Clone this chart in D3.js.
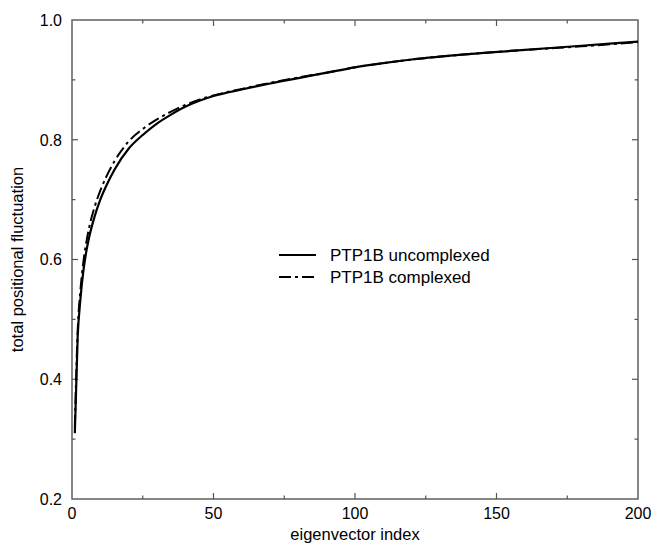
<!DOCTYPE html>
<html>
<head>
<meta charset="utf-8">
<script src="https://cdn.jsdelivr.net/npm/d3@7"></script>
<style>
  body { margin: 0; background: #fff; }
  text { font-family: "Liberation Sans", Arial, sans-serif; fill: #000; }
</style>
</head>
<body>
<div id="chart"></div>
<script>
// values
var idxUncomplexed = [1, 2, 3, 4, 5, 6, 8, 10, 12, 15, 20, 25, 30, 35, 40, 45, 50, 60, 70, 80, 90, 100, 110, 120, 140, 160, 180, 200];
var uncomplexed    = [0.31, 0.47, 0.535, 0.58, 0.612, 0.636, 0.672, 0.70, 0.722, 0.75, 0.785, 0.808, 0.827, 0.842, 0.855, 0.865, 0.873, 0.884, 0.894, 0.903, 0.912, 0.921, 0.928, 0.934, 0.943, 0.950, 0.957, 0.964];
var idxComplexed   = [1, 2, 3, 4, 5, 6, 8, 10, 12, 15, 20, 25, 30, 35, 40, 45, 50, 60, 70, 80, 90, 100, 110, 120, 140, 160, 180, 200];
var complexed      = [0.32, 0.48, 0.55, 0.595, 0.627, 0.652, 0.688, 0.715, 0.737, 0.764, 0.797, 0.818, 0.834, 0.847, 0.858, 0.867, 0.874, 0.885, 0.895, 0.904, 0.912, 0.921, 0.928, 0.934, 0.943, 0.950, 0.956, 0.963];
var seriesNames = ["PTP1B uncomplexed", "PTP1B complexed"];
var xMajor = [0, 50, 100, 150, 200];
var xMinor = [25, 75, 125, 175];
var yMajor = [0.2, 0.4, 0.6, 0.8, 1.0];
var yMinor = [0.3, 0.5, 0.7, 0.9];

var width = 651, height = 544;
var margin = {left: 72, right: 13, top: 20, bottom: 45};

var svg = d3.select("#chart").append("svg")
    .attr("width", width)
    .attr("height", height);

var x = d3.scaleLinear().domain([0, 200]).range([margin.left, width - margin.right]);
var y = d3.scaleLinear().domain([0.2, 1.0]).range([height - margin.bottom, margin.top]);

var axisColor = "#555";

// frame
svg.append("rect")
    .attr("x", x(0)).attr("y", y(1.0))
    .attr("width", x(200) - x(0)).attr("height", y(0.2) - y(1.0))
    .attr("fill", "none").attr("stroke", axisColor).attr("stroke-width", 1.4);

// inward ticks on all four sides
function ticks(vals, len) {
    var g = svg.append("g").attr("stroke", axisColor).attr("stroke-width", 1.2);
    vals.forEach(function (v) {
        g.append("line").attr("x1", x(v)).attr("x2", x(v)).attr("y1", y(0.2)).attr("y2", y(0.2) - len);
        g.append("line").attr("x1", x(v)).attr("x2", x(v)).attr("y1", y(1.0)).attr("y2", y(1.0) + len);
    });
}
function yticks(vals, len) {
    var g = svg.append("g").attr("stroke", axisColor).attr("stroke-width", 1.2);
    vals.forEach(function (v) {
        g.append("line").attr("y1", y(v)).attr("y2", y(v)).attr("x1", x(0)).attr("x2", x(0) + len);
        g.append("line").attr("y1", y(v)).attr("y2", y(v)).attr("x1", x(200)).attr("x2", x(200) - len);
    });
}
ticks(xMajor.slice(1, -1), 6);
ticks(xMinor, 3.5);
yticks(yMajor.slice(1, -1), 6);
yticks(yMinor, 3.5);

// tick labels
svg.append("g").selectAll("text")
    .data(xMajor).enter().append("text")
    .attr("x", function (d) { return x(d); })
    .attr("y", y(0.2) + 20)
    .attr("text-anchor", "middle")
    .style("font-size", "16px")
    .text(function (d) { return d; });

svg.append("g").selectAll("text")
    .data(yMajor).enter().append("text")
    .attr("x", x(0) - 10)
    .attr("y", function (d) { return y(d); })
    .attr("dy", "0.36em")
    .attr("text-anchor", "end")
    .style("font-size", "16px")
    .text(function (d) { return d3.format(".1f")(d); });

// axis titles
svg.append("text")
    .attr("x", (x(0) + x(200)) / 2)
    .attr("y", 540)
    .attr("text-anchor", "middle")
    .style("font-size", "16.5px")
    .text("eigenvector index");

svg.append("text")
    .attr("transform", "translate(23," + ((y(0.2) + y(1.0)) / 2) + ") rotate(-90)")
    .attr("text-anchor", "middle")
    .style("font-size", "16.5px")
    .text("total positional fluctuation");

// curves
var line = d3.line()
    .x(function (d) { return x(d[0]); })
    .y(function (d) { return y(d[1]); })
    .curve(d3.curveMonotoneX);

var dashes = [null, "12,4,3,4"];

svg.append("path")
    .datum(d3.zip(idxComplexed, complexed))
    .attr("d", line)
    .attr("fill", "none")
    .attr("stroke", "#000")
    .attr("stroke-width", 2)
    .attr("stroke-dasharray", dashes[1]);

svg.append("path")
    .datum(d3.zip(idxUncomplexed, uncomplexed))
    .attr("d", line)
    .attr("fill", "none")
    .attr("stroke", "#000")
    .attr("stroke-width", 2.2);

// legend
var legend = svg.append("g").attr("transform", "translate(279,255)");
seriesNames.forEach(function (name, i) {
    legend.append("line")
        .attr("x1", 0).attr("x2", 37)
        .attr("y1", i * 22).attr("y2", i * 22)
        .attr("stroke", "#000")
        .attr("stroke-width", 2.2)
        .attr("stroke-dasharray", dashes[i]);
    legend.append("text")
        .attr("x", 51)
        .attr("y", i * 22)
        .attr("dy", "0.36em")
        .style("font-size", "17px")
        .text(name);
});
</script>
</body>
</html>
